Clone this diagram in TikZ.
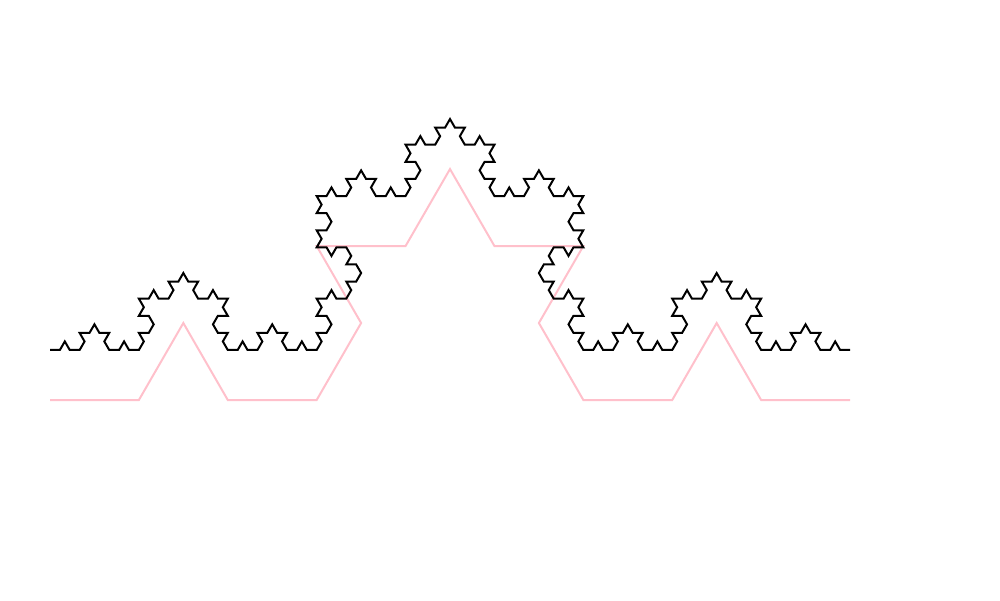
\documentclass[tikz,border=0pt]{standalone}
\tikzset{
  pinkline/.style={draw={rgb,255:red,255;green,192;blue,203}, line width=2pt, line join=miter},
  blackline/.style={draw=black, line width=2pt, line join=miter}
}
\def\kochpath{}
\newcommand\kochrec[3]{%
  \ifnum#1=0
    \xdef\kochpath{\kochpath -- ++(#2:#3)}%
  \else
    \expandafter\kochrecB\expandafter{\the\numexpr#1-1\relax}{#2}{#3}%
  \fi}
\newcommand\kochrecB[3]{%
  \kochrec{#1}{#2}{#3}%
  \kochrec{#1}{\the\numexpr#2+60\relax}{#3}%
  \kochrec{#1}{\the\numexpr#2-60\relax}{#3}%
  \kochrec{#1}{#2}{#3}}
\begin{document}
\begin{tikzpicture}[x=1pt,y=1pt]
\useasboundingbox (0,0) rectangle (1000,600);
\gdef\kochpath{}\kochrec{2}{0}{88.8889}%
\edef\pinkpath{\noexpand\draw[pinkline] (50,200) coordinate (ps) \kochpath;}\pinkpath
\gdef\kochpath{}\kochrec{4}{0}{9.87654}%
\edef\blackpath{\noexpand\draw[blackline] (50,250) coordinate (bs) \kochpath;}\blackpath
\end{tikzpicture}
\end{document}
